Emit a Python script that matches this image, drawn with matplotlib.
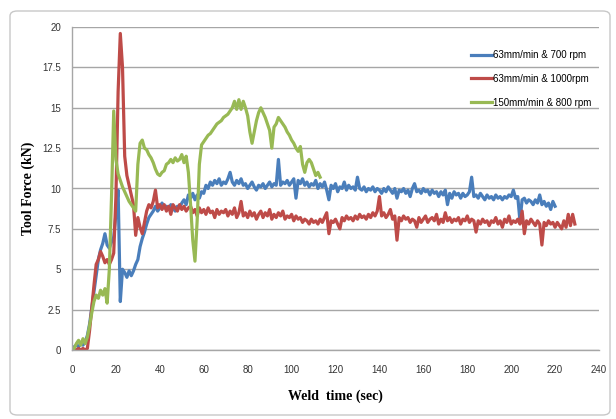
import matplotlib
matplotlib.use("Agg")
import matplotlib.pyplot as plt
import numpy as np
from matplotlib.patches import FancyBboxPatch

blue_force = [
    0.0, 0.2, 0.3, 0.2, 0.4, 0.3, 0.5, 0.9, 1.6, 2.6,
    3.6, 4.6, 5.6, 6.2, 6.6, 7.2, 6.5, 6.3, 6.7, 7.0,
    8.4, 9.9, 3.0, 5.0, 4.8, 4.5, 4.9, 4.6, 4.9, 5.3,
    5.6, 6.4, 6.9, 7.3, 7.8, 8.2, 8.4, 8.6, 8.9, 8.6,
    8.8, 9.1, 8.8, 8.9, 8.7, 9.0, 8.8, 8.6, 8.9, 8.8,
    9.1, 9.3, 9.0, 9.6, 9.4, 9.7, 9.3, 9.6, 9.4, 9.8,
    9.7, 10.2, 10.0, 10.4, 10.2, 10.5, 10.3, 10.6, 10.2, 10.4,
    10.3, 10.6, 11.0, 10.4, 10.2, 10.5, 10.3, 10.6, 10.2, 10.3,
    10.0, 10.2, 10.4, 10.1, 9.9, 10.2, 10.1, 10.3, 10.0, 10.2,
    10.4, 10.1, 10.3, 10.2, 11.8, 10.2, 10.4, 10.3, 10.5, 10.2,
    10.4, 10.6, 9.4, 10.5, 10.3, 10.6, 10.2, 10.4, 10.1, 10.3,
    10.2, 10.5, 10.0, 10.3, 10.1, 10.4, 9.9, 9.3, 10.2, 10.0,
    10.3, 9.8, 10.1, 10.0, 10.4, 9.9, 10.2, 10.0, 10.1, 9.9,
    10.7, 10.0, 9.9, 10.1, 9.8, 10.0, 9.9, 10.1, 9.8, 10.0,
    9.9, 9.7, 10.0, 9.8, 10.1, 9.9, 9.7, 10.0, 9.4, 9.9,
    9.8, 10.0, 9.7, 9.9, 9.5, 10.0, 10.3, 9.8, 9.9, 9.7,
    10.0, 9.8, 9.9, 9.6, 9.9, 9.7, 9.8, 9.5, 9.8, 9.6,
    9.9, 9.0, 9.7, 9.4, 9.8, 9.6, 9.7, 9.4, 9.7, 9.5,
    9.6, 9.8, 10.7, 9.5, 9.6, 9.4, 9.7, 9.5, 9.3, 9.6,
    9.4, 9.5, 9.3, 9.6, 9.4, 9.5, 9.3, 9.5, 9.4, 9.6,
    9.5, 9.9, 9.4, 9.5, 8.0, 9.3, 9.4, 9.1, 9.3, 9.2,
    9.0, 9.3, 9.1, 9.6, 9.0, 9.2, 8.9, 9.1, 8.7, 9.2,
    8.9,
]

red_force = [
    0.0, 0.1, 0.0, 0.1, 0.0, 0.1, 0.0, 0.1, 1.2, 2.6,
    4.0, 5.3, 5.6, 6.1, 5.8, 5.4, 5.6, 5.3, 5.6, 6.0,
    9.5, 16.0, 19.6, 17.5, 12.0, 10.8, 10.2, 9.6, 9.0, 7.1,
    8.2, 7.6, 7.2, 7.9, 8.6, 9.0, 8.8, 9.2, 9.9, 8.8,
    9.0, 8.7, 9.0, 8.6, 8.9, 8.4, 9.0, 8.8, 8.6, 9.0,
    8.7, 8.9, 8.6, 8.8, 8.9, 8.5, 8.7, 8.3, 8.8, 8.5,
    8.7, 8.4, 8.8, 8.5, 8.6, 8.2, 8.7, 8.4, 8.6, 8.5,
    8.7, 8.3, 8.6, 8.4, 8.8, 8.2, 8.5, 9.2, 8.3, 8.5,
    8.2, 8.6, 8.3, 8.5, 8.1, 8.4, 8.6, 8.2, 8.5, 8.3,
    8.7, 8.1, 8.4, 8.2, 8.5, 8.3, 8.6, 8.1, 8.3, 8.2,
    8.4, 8.0, 8.3, 8.1, 8.2, 7.9, 8.1, 8.0, 7.8, 8.1,
    7.9, 8.0, 7.8, 8.1, 7.9, 8.2, 8.5, 7.2, 8.0, 7.9,
    8.1, 7.8, 7.5, 8.2, 8.0, 8.3, 8.1, 8.2, 8.0, 8.3,
    8.1, 8.4, 8.2, 8.3, 8.1, 8.4, 8.2, 8.5, 8.3, 8.6,
    9.5, 8.3, 8.5, 8.2, 8.4, 8.7, 8.1, 8.3, 6.8, 8.2,
    8.0, 8.3, 8.1, 8.2, 7.9, 8.1, 8.0, 7.6, 8.2, 7.9,
    8.1, 8.3, 7.9, 8.1, 8.2, 8.0, 8.4, 7.8, 8.1, 7.9,
    8.5, 8.0, 8.2, 7.9, 8.1, 8.0, 8.2, 7.8, 8.1, 8.0,
    8.3, 7.9, 8.1, 8.0, 7.3, 8.0, 7.8, 8.1, 7.9, 8.0,
    7.7, 8.0, 7.9, 8.2, 7.8, 8.0, 7.6, 8.1, 7.9, 8.3,
    7.8, 8.0, 7.9, 8.1, 7.8, 8.6, 7.2, 8.0, 7.8, 8.1,
    7.9, 7.7, 8.0, 7.8, 6.5, 7.9, 7.7, 8.0, 7.8, 7.9,
    7.6, 7.9, 7.7, 7.5, 8.0, 7.6, 8.4, 7.7, 8.4, 7.8,
]

green_force = [
    0.0, 0.1, 0.4, 0.6, 0.3, 0.7, 0.4, 0.8, 1.5, 2.3,
    3.0, 3.4, 3.2, 3.7, 3.4, 3.8, 2.9, 5.0, 9.5, 14.8,
    11.8, 10.9, 10.5, 10.1, 9.8, 9.5, 9.2, 9.0, 8.8, 8.6,
    11.5, 12.8, 13.0, 12.5, 12.4, 12.1, 11.9, 11.6, 11.2, 10.9,
    10.8, 11.0, 11.1, 11.5, 11.6, 11.8, 11.6, 11.9, 11.7, 11.8,
    12.1, 11.6, 12.0, 11.0, 9.0, 6.8, 5.5, 8.0, 11.5, 12.7,
    12.9, 13.1, 13.3, 13.4, 13.6, 13.8, 14.0, 14.1, 14.2, 14.4,
    14.5, 14.6, 14.8, 15.0, 15.4, 14.9, 15.5, 14.9, 15.4, 15.0,
    14.5, 13.5, 12.8, 13.5, 14.2, 14.7, 15.0, 14.7, 14.4, 14.0,
    13.6, 12.5, 13.8, 14.0, 14.4, 14.2, 14.0, 13.8, 13.5, 13.3,
    13.0, 12.8, 12.5, 12.3, 12.6, 11.5, 11.0, 11.6, 11.8, 11.6,
    11.2, 10.8, 11.0, 10.7,
]

labels = ["63mm/min & 700 rpm", "63mm/min & 1000rpm", "150mm/min & 800 rpm"]
colors = ["#4A7EBB", "#BE4B48", "#98B954"]

fig = plt.figure(figsize=(6.16, 4.19), dpi=100)

# Excel-like chart frame (outline only, drawn behind the axes)
frame = FancyBboxPatch(
    (10 / 616, 4 / 419), 600 / 616, 404 / 419,
    boxstyle="round,pad=0,rounding_size=0.012",
    transform=fig.transFigure, facecolor="none",
    edgecolor="#c8c8c8", linewidth=1.0, zorder=-1,
)
fig.patches.append(frame)

ax = fig.add_axes([72 / 616, 1 - 350 / 419, 527 / 616, 323 / 419])
ax.set_facecolor("none")

for force, label, color in zip([blue_force, red_force, green_force], labels, colors):
    t = np.arange(len(force))
    ax.plot(t, force, color=color, linewidth=2.3, label=label)

ax.set_xlim(0, 240)
ax.set_ylim(0, 20)
ax.set_xticks(np.arange(0, 241, 20))
ax.set_yticks(np.arange(0, 20.1, 2.5))
ax.set_yticklabels(["0", "2.5", "5", "7.5", "10", "12.5", "15", "17.5", "20"])

ax.grid(axis="y", color="#a6a6a6", linewidth=1.0)
ax.set_axisbelow(True)
for side in ["top", "right"]:
    ax.spines[side].set_visible(False)
for side in ["left", "bottom"]:
    ax.spines[side].set_color("#a6a6a6")
    ax.spines[side].set_linewidth(1.0)

ax.tick_params(length=0, labelsize=7, labelcolor="#333333")
ax.tick_params(axis="x", pad=11)
ax.tick_params(axis="y", pad=8)
for lbl in ax.get_xticklabels() + ax.get_yticklabels():
    lbl.set_fontfamily("Liberation Sans")

ax.set_xlabel("Weld  time (sec)", fontfamily="Liberation Serif",
              fontweight="bold", fontsize=10, labelpad=10)
ax.set_ylabel("Tool Force (kN)", fontfamily="Liberation Serif",
              fontweight="bold", fontsize=10, labelpad=5)

ax.legend(loc="upper left", bbox_to_anchor=(0.74, 0.955), frameon=False,
          prop={"family": "Liberation Sans", "size": 7},
          handlelength=2.2, handletextpad=0.1, labelspacing=1.4)

fig.savefig("out.png", dpi=100)
